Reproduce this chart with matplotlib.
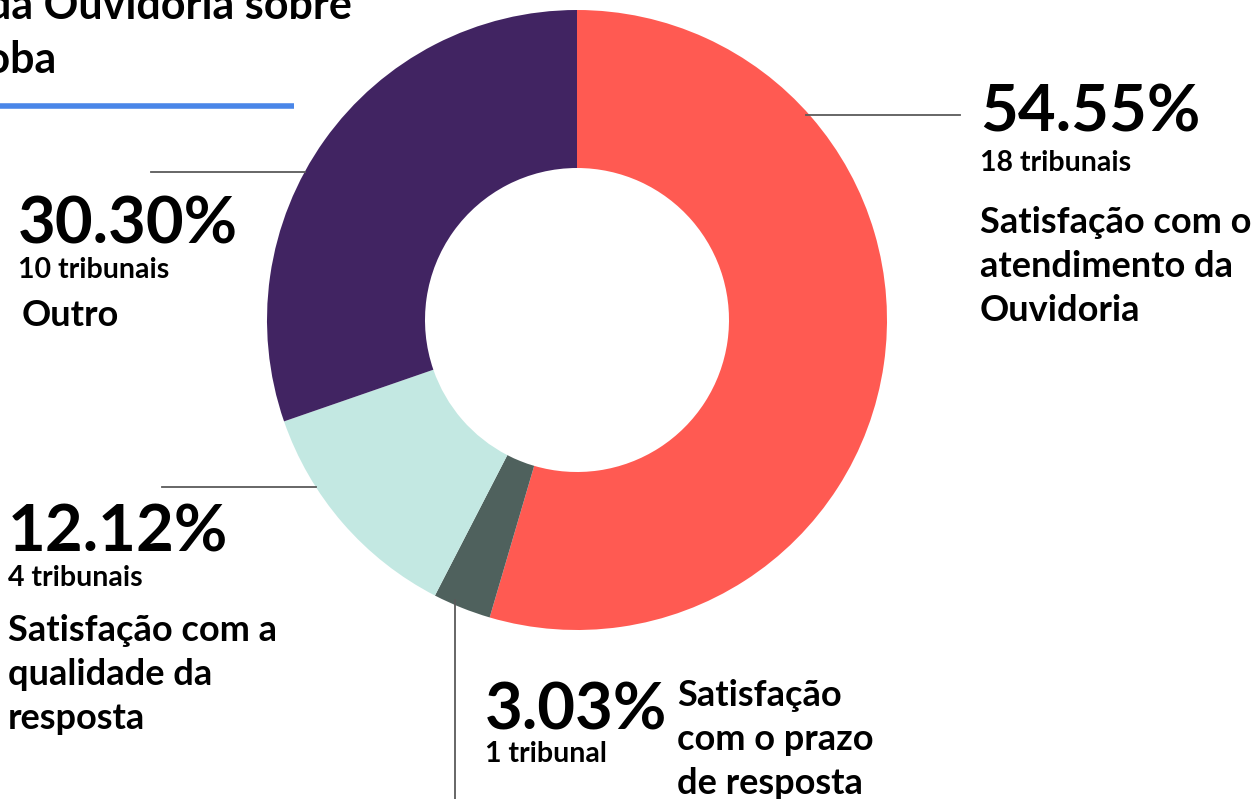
import matplotlib.pyplot as plt

# data
labels = ["Satisfação com o\natendimento da\nOuvidoria",
          "Satisfação\ncom o prazo\nde resposta",
          "Satisfação com a\nqualidade da\nresposta",
          "Outro"]
counts = [18, 1, 4, 10]
count_text = ["18 tribunais", "1 tribunal", "4 tribunais", "10 tribunais"]
colors = ["#FF5A52", "#4F615D", "#C3E8E2", "#412462"]
title_lines = ["da Ouvidoria sobre", "boba"]

W, H = 1260, 799
FONT = ["Lato", "DejaVu Sans"]
plt.rcParams['font.family'] = FONT

fig = plt.figure(figsize=(W / 100, H / 100), dpi=100)
ax = fig.add_axes([0, 0, 1, 1])


def Y(y):
    # pixel row (from top) -> data y
    return H - y


total = sum(counts)
pct = [100 * c / total for c in counts]

ax.pie(counts, colors=colors, startangle=90, counterclock=False,
       center=(577, Y(320)), radius=310,
       wedgeprops=dict(width=158, linewidth=0))
ax.set_xlim(0, W)
ax.set_ylim(0, H)
ax.set_aspect('equal')
ax.axis('off')

# title (cropped at top-left in the reference)
ax.text(352, Y(19), title_lines[0], fontsize=31, fontweight='bold', va='baseline', ha='right')
ax.text(57, Y(73), title_lines[1], fontsize=31, fontweight='bold', va='baseline', ha='right')
ax.plot([0, 294], [Y(106), Y(106)], color="#4A86E8", linewidth=4, solid_capstyle='butt')

# leader lines
lc = "#5a5a5a"
ax.plot([806, 960], [Y(115), Y(115)], color=lc, lw=1.3)
ax.plot([151, 305], [Y(172), Y(172)], color=lc, lw=1.3)
ax.plot([162, 316], [Y(487), Y(487)], color=lc, lw=1.3)
ax.plot([455, 455], [Y(600), Y(799)], color=lc, lw=1.3)

big = 47
mid = 20.5
lab = 26
ls = 1.4


def block(x, y_pct, y_cnt, y_lab, i, lab_x=None):
    ax.text(x, Y(y_pct), f"{pct[i]:.2f}%", fontsize=big, fontweight='bold', va='baseline')
    ax.text(x, Y(y_cnt), count_text[i], fontsize=mid, fontweight='bold', va='baseline')
    ax.text(lab_x if lab_x is not None else x, Y(y_lab), labels[i], fontsize=lab,
            fontweight='bold', va='top', linespacing=ls)


block(980, 132, 171, 206, 0)
block(18, 243, 278, 299, 3, lab_x=22)
block(8, 552, 586, 614, 2)
# small slice: label beside the numbers
ax.text(485, Y(729), f"{pct[1]:.2f}%", fontsize=big, fontweight='bold', va='baseline')
ax.text(485, Y(762), count_text[1], fontsize=mid, fontweight='bold', va='baseline')
ax.text(677, Y(679), labels[1], fontsize=lab, fontweight='bold', va='top', linespacing=ls)

fig.savefig("out.png", dpi=100)
